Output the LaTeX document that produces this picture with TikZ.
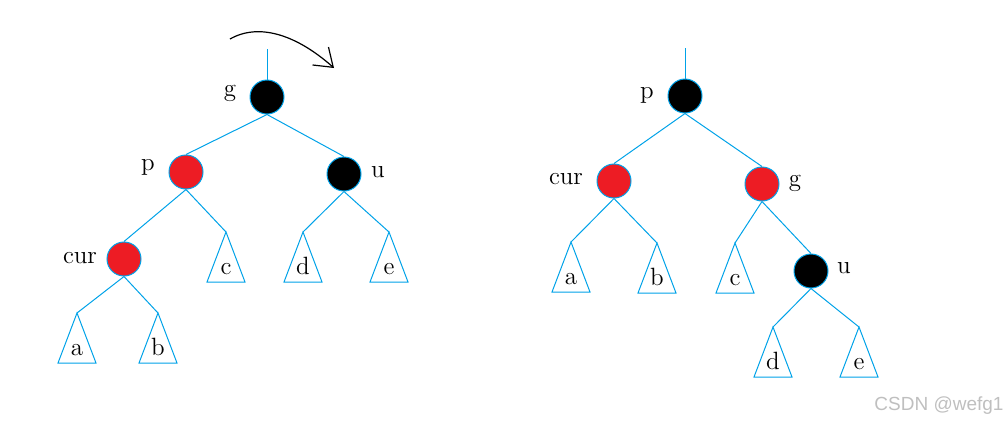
\documentclass[tikz,border=0pt]{standalone}
\usepackage{fontspec}
\newfontfamily\wmfont{Liberation Sans}
\usepackage{tikz}
\usetikzlibrary{arrows.meta}
\definecolor{paintblue}{RGB}{0,162,232}
\definecolor{paintred}{RGB}{237,28,36}
% Teilbaum: Name, x, y (Spitze), Beschriftung
\newcommand{\teilbaum}[4]{%
  \coordinate (#1) at (#2,#3);
  \draw[kante] (#1) -- ++(-19,50) -- ++(38,0) -- cycle;
  \node[anchor=base, inner sep=0pt] (#1l) at (#2,{#3+42}) {#4};
}
\begin{document}
\begin{tikzpicture}[x=0.5pt, y=-0.5pt,
				kante/.style={color=paintblue, line width=0.5pt},
				rotknoten/.style={circle, fill=paintred, draw=paintblue, line width=0.5pt, minimum size=17pt, inner sep=0pt},
				schwarzknoten/.style={rotknoten, fill=black},
				font=\fontsize{12.5}{15}\selectfont]
				\useasboundingbox (0,0) rectangle (1007,425);
				%Linker Baum: Knoten
				\node[schwarzknoten] (g1) at (267,97) {};
				\node[rotknoten] (p1) at (186,172) {};
				\node[schwarzknoten] (u1) at (344,174) {};
				\node[rotknoten] (cur1) at (124,259) {};
				\coordinate (wurzel1) at (267,49);
				%Beschriftung
				\node (lg1) at (230,93) {g};
				\node (lp1) at (148,167) {p};
				\node (lu1) at (378,172) {u};
				\node (lcur1) at (80,258) {cur};
				%Teilbaeume
				\teilbaum{a1}{77}{313}{a}
				\teilbaum{b1}{158}{313}{b}
				\teilbaum{c1}{226}{232}{c}
				\teilbaum{d1}{303}{232}{d}
				\teilbaum{e1}{389}{232}{e}
				%Kanten
				\draw[kante] (wurzel1) -- (g1.north);
				\draw[kante] (g1.south) -- (p1.north);
				\draw[kante] (g1.south) -- (u1.north);
				\draw[kante] (p1.south) -- (cur1.north);
				\draw[kante] (p1.south) -- (c1);
				\draw[kante] (cur1.south) -- (a1);
				\draw[kante] (cur1.south) -- (b1);
				\draw[kante] (u1.south) -- (d1);
				\draw[kante] (u1.south) -- (e1);
				%Drehpfeil
				\coordinate (bogenA) at (230,39);
				\coordinate (bogenB) at (334,68);
				\draw[-{Straight Barb[length=8.5pt,width=12pt]}, line width=0.6pt] (bogenA) .. controls (260,22) and (298,36) .. (bogenB);
				%Rechter Baum: Knoten
				\node[schwarzknoten] (p2) at (685,96) {};
				\node[rotknoten] (cur2) at (614,181) {};
				\node[rotknoten] (g2) at (762,184) {};
				\node[schwarzknoten] (u2) at (811,271) {};
				\coordinate (wurzel2) at (685,48);
				%Beschriftung
				\node (lp2) at (647,95) {p};
				\node (lcur2) at (566,179) {cur};
				\node (lg2) at (795,183) {g};
				\node (lu2) at (844,268) {u};
				%Teilbaeume
				\teilbaum{a2}{571}{242}{a}
				\teilbaum{b2}{657}{243}{b}
				\teilbaum{c2}{735}{243}{c}
				\teilbaum{d2}{773}{327}{d}
				\teilbaum{e2}{859}{327}{e}
				%Kanten
				\draw[kante] (wurzel2) -- (p2.north);
				\draw[kante] (p2.south) -- (cur2.north);
				\draw[kante] (p2.south) -- (g2.north);
				\draw[kante] (cur2.south) -- (a2);
				\draw[kante] (cur2.south) -- (b2);
				\draw[kante] (g2.south) -- (c2);
				\draw[kante] (g2.south) -- (u2.north);
				\draw[kante] (u2.south) -- (d2);
				\draw[kante] (u2.south) -- (e2);
				%Wasserzeichen
				\node[text=gray!50, font=\wmfont\fontsize{9.5}{11}\selectfont] (wm) at (939,406) {CSDN @wefg1};
\end{tikzpicture}
\end{document}
